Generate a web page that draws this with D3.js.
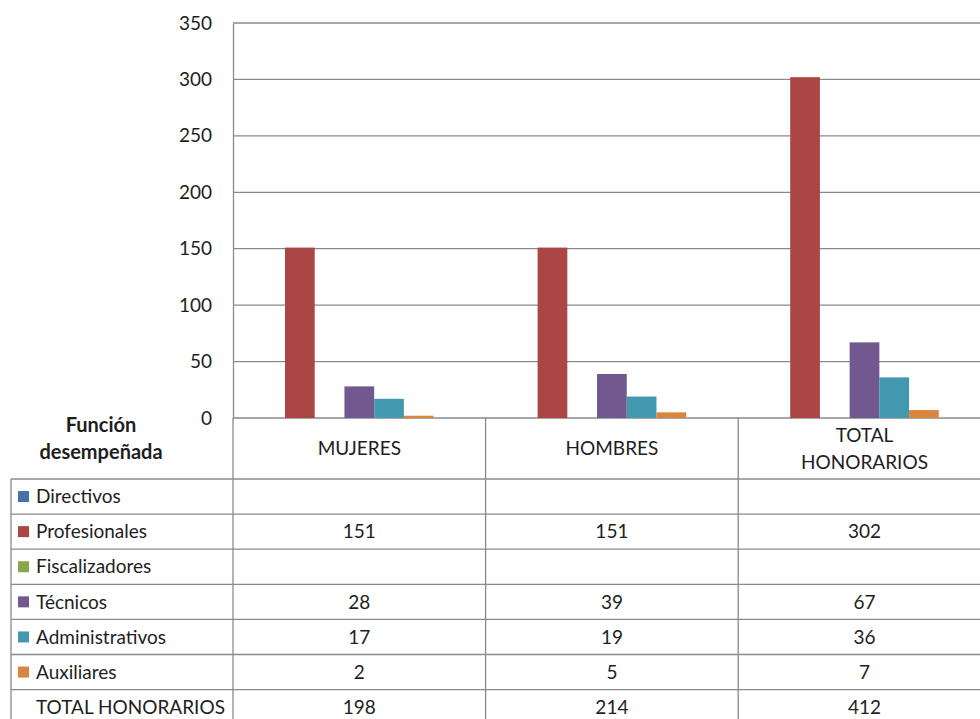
<!DOCTYPE html>
<html>
<head>
<meta charset="utf-8">
<script src="https://cdn.jsdelivr.net/npm/d3@7"></script>
<style>
  html, body { margin: 0; padding: 0; background: #fff; }
  svg { display: block; }
  text { font-family: Lato, "Noto Sans", sans-serif; fill: #1e1e1e; }
</style>
</head>
<body>
<svg id="chart" width="980" height="719"></svg>
<script>
// ---- data ----
const categories = ["MUJERES", "HOMBRES", "TOTAL HONORARIOS"];
const categoryLines = [["MUJERES"], ["HOMBRES"], ["TOTAL", "HONORARIOS"]];
const seriesNames = ["Directivos", "Profesionales", "Fiscalizadores", "Técnicos", "Administrativos", "Auxiliares", "TOTAL HONORARIOS"];
const directivos = [null, null, null];
const profesionales = [151, 151, 302];
const fiscalizadores = [null, null, null];
const tecnicos = [28, 39, 67];
const administrativos = [17, 19, 36];
const auxiliares = [2, 5, 7];
const totalHonorarios = [198, 214, 412];
const seriesColors = ["#4572A7", "#AA4643", "#89A54E", "#71588F", "#4198AF", "#DB843D", null];
const yTicks = [0, 50, 100, 150, 200, 250, 300, 350];
const tableHeader = ["Función", "desempeñada"];

const seriesValues = [directivos, profesionales, fiscalizadores, tecnicos, administrativos, auxiliares, totalHonorarios];

// ---- layout ----
const svg = d3.select("#chart");
const plotLeft = 233, catWidth = 252.6;
const plotTop = 23, plotBottom = 418;
const tableLeft = 11, headerBottom = 479, rowH = 35.1;
const fontSize = 19;
const lineColor = "#8a8a8a";

const x0 = d3.scaleBand().domain(categories).range([plotLeft, plotLeft + catWidth * categories.length]).paddingInner(0).paddingOuter(0);
const x1 = d3.scaleBand().domain(seriesNames).range([0, x0.bandwidth()]).paddingInner(0).paddingOuter(0.75);
const y = d3.scaleLinear().domain([0, 350]).range([plotBottom, plotTop]);
const rightEdge = x0.range()[1];

// gridlines
svg.append("g").selectAll("line").data(yTicks).join("line")
  .attr("x1", plotLeft).attr("x2", rightEdge)
  .attr("y1", d => y(d)).attr("y2", d => y(d))
  .attr("stroke", lineColor).attr("stroke-width", 1.3);

// y axis via d3.axisLeft
const yAxis = svg.append("g").attr("transform", `translate(${plotLeft},0)`)
  .call(d3.axisLeft(y).tickValues(yTicks).tickSize(0).tickPadding(21));
yAxis.select(".domain").attr("stroke", lineColor).attr("stroke-width", 1.3);
yAxis.selectAll("text").style("font-family", "Lato, 'Noto Sans', sans-serif")
  .style("font-size", fontSize + "px").attr("fill", "#1e1e1e");

// bars
seriesNames.forEach((s, si) => {
  if (!seriesColors[si]) return;
  svg.append("g").selectAll("rect")
    .data(categories.map((c, ci) => ({ c, v: seriesValues[si][ci] })).filter(d => d.v != null))
    .join("rect")
    .attr("x", d => x0(d.c) + x1(s))
    .attr("width", x1.bandwidth())
    .attr("y", d => y(d.v))
    .attr("height", d => y(0) - y(d.v))
    .attr("fill", seriesColors[si]);
});

// table lines
const g = svg.append("g");
const nRows = seriesNames.length;
categories.forEach((c, i) => {
  g.append("line").attr("x1", x0(c)).attr("x2", x0(c))
    .attr("y1", plotBottom).attr("y2", headerBottom + rowH * nRows + 10)
    .attr("stroke", lineColor).attr("stroke-width", 1.3);
});
g.append("line").attr("x1", rightEdge).attr("x2", rightEdge)
  .attr("y1", plotBottom).attr("y2", headerBottom + rowH * nRows + 10)
  .attr("stroke", lineColor).attr("stroke-width", 1.3);
g.append("line").attr("x1", tableLeft).attr("x2", tableLeft)
  .attr("y1", headerBottom).attr("y2", headerBottom + rowH * nRows + 10)
  .attr("stroke", lineColor).attr("stroke-width", 1.3);
d3.range(nRows + 1).forEach(k => {
  const yy = headerBottom + rowH * k;
  g.append("line").attr("x1", tableLeft).attr("x2", rightEdge)
    .attr("y1", yy).attr("y2", yy)
    .attr("stroke", lineColor).attr("stroke-width", 1.3);
});

// header label
g.append("text").attr("x", 101).attr("y", 425).attr("dy", "0.35em")
  .attr("text-anchor", "middle").style("font-size", "20px").style("font-weight", "bold").text(tableHeader[0]);
g.append("text").attr("x", 101).attr("y", 452).attr("dy", "0.35em")
  .attr("text-anchor", "middle").style("font-size", "20px").style("font-weight", "bold").text(tableHeader[1]);

// category labels
categories.forEach((c, i) => {
  const lines = categoryLines[i];
  const cy = (plotBottom + headerBottom) / 2;
  lines.forEach((ln, li) => {
    g.append("text")
      .attr("x", x0(c) + x0.bandwidth() / 2)
      .attr("y", cy + (li - (lines.length - 1) / 2) * 27)
      .attr("dy", "0.35em").attr("text-anchor", "middle")
      .style("font-size", "19px").text(ln);
  });
});

// rows
seriesNames.forEach((s, si) => {
  const cy = headerBottom + rowH * si + rowH / 2;
  if (seriesColors[si]) {
    g.append("rect").attr("x", 18).attr("y", cy - 5.5).attr("width", 11).attr("height", 11)
      .attr("fill", seriesColors[si]);
  }
  g.append("text").attr("x", 36).attr("y", cy).attr("dy", "0.35em")
    .style("font-size", "19px").text(s);
  categories.forEach((c, ci) => {
    const v = seriesValues[si][ci];
    if (v == null) return;
    g.append("text").attr("x", x0(c) + x0.bandwidth() / 2).attr("y", cy).attr("dy", "0.35em")
      .attr("text-anchor", "middle").style("font-size", "19px").text(v);
  });
});
</script>
</body>
</html>
